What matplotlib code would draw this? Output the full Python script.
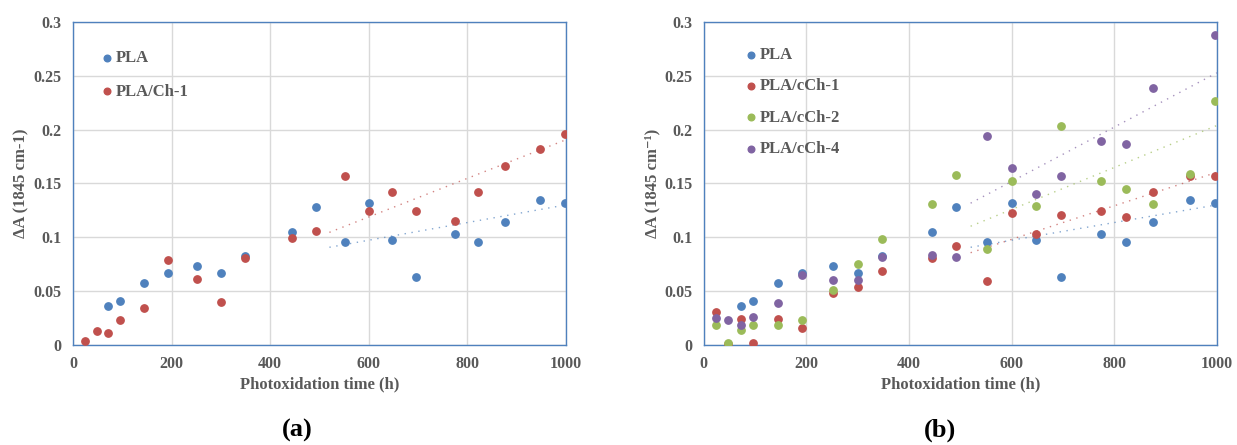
import numpy as np
import matplotlib.pyplot as plt

# --------------------------------------------------
# Data
# --------------------------------------------------
t_pla = [72, 96, 144, 192, 252, 300, 348, 444, 492, 552, 600, 648, 696, 774, 822, 876, 948, 997]
pla = [0.036, 0.041, 0.0576, 0.0666, 0.0738, 0.0666, 0.083, 0.105, 0.128, 0.0954,
       0.132, 0.0973, 0.0629, 0.103, 0.0954, 0.114, 0.135, 0.132]

t_all = [24, 48, 72, 96, 144, 192, 252, 300, 348, 444, 492, 552, 600, 648, 696, 774, 822, 876, 948, 997]
pla_ch1 = [0.0037, 0.0127, 0.0108, 0.0232, 0.0344, 0.0793, 0.061, 0.0397, 0.0812, 0.0992,
           0.106, 0.157, 0.124, 0.142, 0.124, 0.115, 0.142, 0.166, 0.182, 0.196]

pla_cch1 = [0.0306, 0.0012, 0.0238, 0.0019, 0.0238, 0.0161, 0.0486, 0.0541, 0.0684, 0.081,
            0.0919, 0.0594, 0.123, 0.103, 0.121, 0.124, 0.119, 0.142, 0.157, 0.157]
pla_cch2 = [0.0189, 0.0022, 0.0139, 0.0189, 0.0189, 0.0235, 0.0513, 0.0749, 0.098, 0.131,
            0.158, 0.0888, 0.152, 0.129, 0.203, 0.152, 0.145, 0.131, 0.159, 0.227]
t_cch4 = [24, 48, 72, 96, 144, 192, 252, 300, 348, 444, 492, 552, 600, 648, 696, 774, 822, 876, 997]
pla_cch4 = [0.0247, 0.0232, 0.0186, 0.0257, 0.039, 0.0653, 0.0606, 0.0606, 0.082, 0.0835,
            0.082, 0.194, 0.164, 0.14, 0.157, 0.189, 0.187, 0.239, 0.288]

# visible part of the dotted linear trendlines
trend_range = [520, 1000]

BLUE, RED, GREEN, PURPLE = "#4F81BD", "#C0504D", "#9BBB59", "#8064A2"
GREY = "#595959"
FONT = "Liberation Serif"

plt.rcParams["font.family"] = [FONT, "DejaVu Serif"]
plt.rcParams["font.weight"] = "bold"


def trend(ax, x, y, color):
    k, b = np.polyfit(x, y, 1)
    xs = np.array(trend_range)
    ax.plot(xs, k * xs + b, color=color, lw=1.0, ls=(0, (1, 4)), alpha=0.7, zorder=2)


def style_axes(ax, ylabel):
    ax.set_xlim(0, 1000)
    ax.set_ylim(0, 0.3)
    ax.set_xticks([0, 200, 400, 600, 800, 1000])
    ax.set_yticks([0, 0.05, 0.1, 0.15, 0.2, 0.25, 0.3])
    ax.set_yticklabels(["0", "0.05", "0.1", "0.15", "0.2", "0.25", "0.3"])
    ax.grid(True, color="#D9D9D9", lw=1.0)
    ax.set_axisbelow(True)
    for s in ax.spines.values():
        s.set_color("#4F81BD")
        s.set_linewidth(1.0)
    ax.tick_params(length=0, labelsize=11.5, labelcolor=GREY, pad=8)
    for lab in ax.get_xticklabels() + ax.get_yticklabels():
        lab.set_fontweight("bold")
    ax.set_xlabel("Photoxidation time (h)", fontsize=12, color=GREY, fontweight="bold", labelpad=3)
    ax.set_ylabel(ylabel, fontsize=12, color=GREY, fontweight="bold", labelpad=3)


def legend(ax, anchor, spacing):
    ax.legend(loc="upper left", bbox_to_anchor=anchor, frameon=False, borderpad=0,
              prop={"family": FONT, "weight": "bold", "size": 12}, labelcolor=GREY,
              handlelength=0.6, handletextpad=0.25, labelspacing=spacing, markerscale=0.9)


fig = plt.figure(figsize=(12.37, 4.45), dpi=100)
ax1 = fig.add_axes([0.059, 0.2247, 0.3986, 0.726])
ax2 = fig.add_axes([0.569, 0.2247, 0.4147, 0.726])

# --------------------------------------------------
# (a)
# --------------------------------------------------
ax1.scatter(t_pla, pla, s=28, color=BLUE, label="PLA", zorder=3)
ax1.scatter(t_all, pla_ch1, s=28, color=RED, label="PLA/Ch-1", zorder=3)
trend(ax1, t_pla, pla, BLUE)
trend(ax1, t_all, pla_ch1, RED)
style_axes(ax1, "ΔA (1845 cm-1)")
legend(ax1, (0.041, 0.938), 1.05)

# --------------------------------------------------
# (b)
# --------------------------------------------------
ax2.scatter(t_pla, pla, s=28, color=BLUE, label="PLA", zorder=3)
ax2.scatter(t_all, pla_cch1, s=28, color=RED, label="PLA/cCh-1", zorder=3)
ax2.scatter(t_all, pla_cch2, s=28, color=GREEN, label="PLA/cCh-2", zorder=3)
ax2.scatter(t_cch4, pla_cch4, s=28, color=PURPLE, label="PLA/cCh-4", zorder=3)
trend(ax2, t_pla, pla, BLUE)
trend(ax2, t_all, pla_cch1, RED)
trend(ax2, t_all, pla_cch2, GREEN)
trend(ax2, t_cch4, pla_cch4, PURPLE)
style_axes(ax2, "ΔA (1845 cm⁻¹)")
legend(ax2, (0.066, 0.948), 0.92)

fig.text(0.240, 0.02, "(a)", fontsize=19, fontweight="bold", ha="center", color="black")
fig.text(0.760, 0.02, "(b)", fontsize=19, fontweight="bold", ha="center", color="black")

fig.savefig("out.png", dpi=100)
